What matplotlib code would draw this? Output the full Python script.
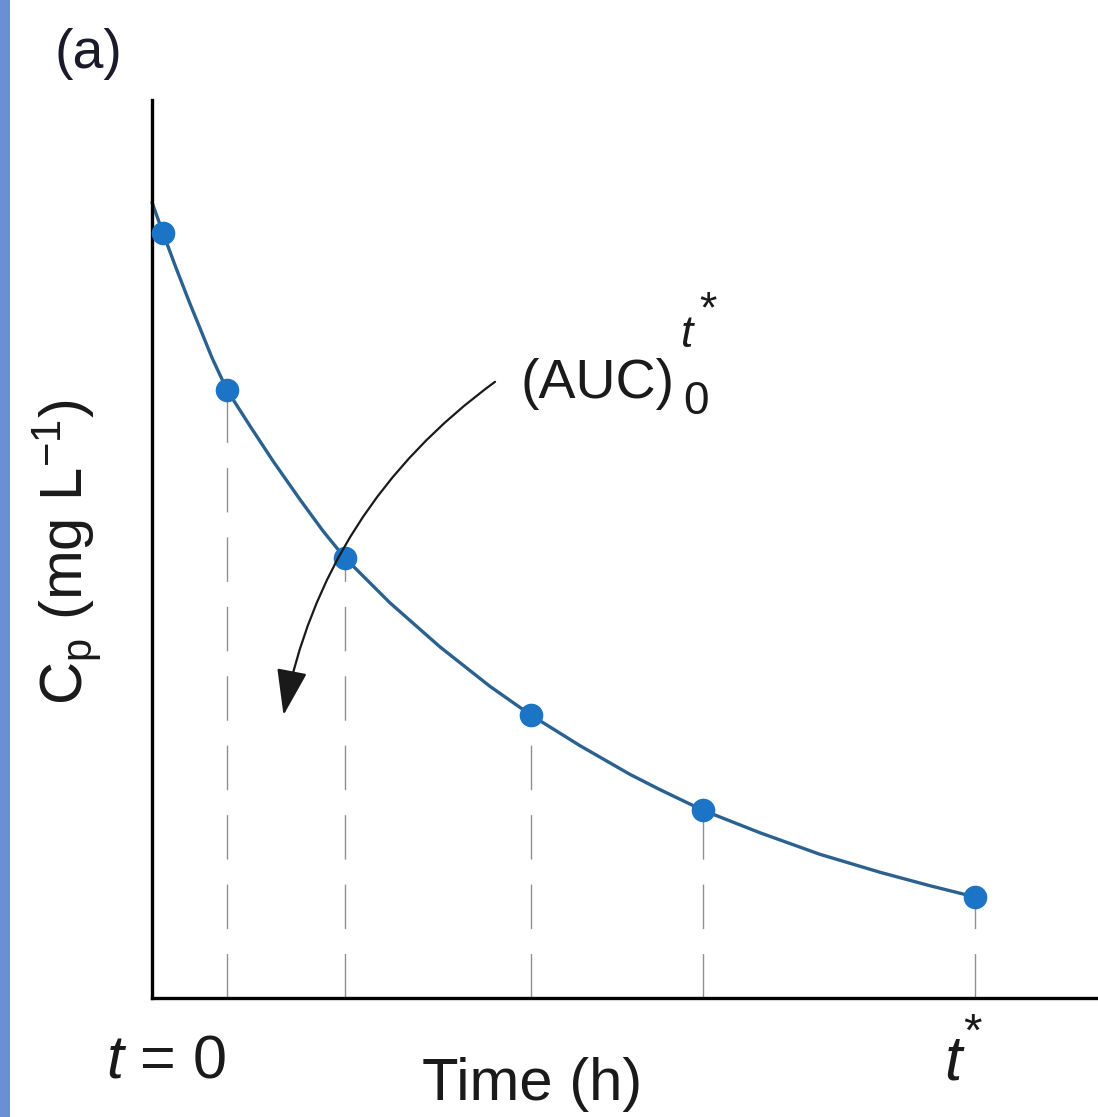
import matplotlib
matplotlib.use("Agg")
import matplotlib.pyplot as plt
from matplotlib.patches import FancyArrowPatch, Rectangle

# ---- data (arbitrary units) ----
sample_t = [1.16, 7.93, 20.40, 40.06, 58.25, 87.0]
sample_c = [85.2, 67.7, 49.0, 31.5, 20.9, 11.25]

curve_t = [0.0, 1.16, 2.54, 4.02, 5.07, 6.34, 7.93, 10.36, 12.79, 15.65,
           18.08, 20.40, 25.16, 30.44, 35.73, 40.06, 45.24, 50.53, 53.70,
           58.25, 64.27, 70.61, 76.96, 82.24, 87.0]
curve_c = [88.6, 85.2, 81.3, 77.3, 74.6, 71.3, 67.7, 63.7, 59.8, 55.5,
           52.0, 49.0, 44.0, 39.1, 34.7, 31.5, 28.1, 24.9, 23.2,
           20.9, 18.4, 16.0, 14.0, 12.5, 11.25]

arrow_start = (36.5, 68.8)
arrow_end = (13.85, 31.2)

FAM = ['Liberation Sans', 'DejaVu Sans']
plt.rcParams['font.family'] = FAM
plt.rcParams['mathtext.fontset'] = 'custom'
plt.rcParams['mathtext.rm'] = 'Liberation Sans'
plt.rcParams['mathtext.it'] = 'Liberation Sans:italic'

W, H = 1098, 1117
fig = plt.figure(figsize=(W / 100, H / 100), dpi=100)
fig.patch.set_facecolor('white')

# blue strip on the left edge
fig.patches.append(Rectangle((0, 0), 10 / W, 1, transform=fig.transFigure,
                             facecolor='#6b8fd6', edgecolor='none', zorder=0))

ax = fig.add_axes([152 / W, 1 - 998 / H, (W - 152) / W, (998 - 100) / H])
ax.set_xlim(0, 100)
ax.set_ylim(0, 100)
for s in ['top', 'right']:
    ax.spines[s].set_visible(False)
for s in ['left', 'bottom']:
    ax.spines[s].set_linewidth(2.4)
    ax.spines[s].set_color('black')
ax.set_xticks([])
ax.set_yticks([])

# dashed drop lines
for t, c in zip(sample_t[1:], sample_c[1:]):
    ax.plot([t, t], [0, c], color='#909090', lw=1.0,
            dashes=(32, 18), zorder=1)

# curve
ax.plot(curve_t, curve_c, color='#2b618f', lw=2.4, zorder=2,
        solid_capstyle='round', solid_joinstyle='round', clip_on=False)
# points
ax.plot(sample_t, sample_c, 'o', color='#1b74c5', ms=16, mec='#1b74c5',
        zorder=3, clip_on=False)

# annotation arrow
arr = FancyArrowPatch(arrow_start, arrow_end, connectionstyle='arc3,rad=0.2',
                      arrowstyle='-|>,head_length=1.8,head_width=0.6',
                      color='#1a1a1a', lw=1.6, mutation_scale=16, zorder=4)
ax.add_patch(arr)

# texts
fig.text(88 / W, 1 - 54 / H, '(a)', fontsize=40, ha='center', va='center',
         color='#1a1a2a')
fig.text(520 / W, 1 - 398 / H, '(AUC)', fontsize=40, ha='left',
         va='baseline', color='#1a1a1a')
fig.text(683 / W, 1 - 414 / H, '0', fontsize=33, ha='left', va='baseline',
         color='#1a1a1a')
fig.text(681 / W, 1 - 347 / H, 't', fontsize=32, style='italic', ha='left',
         va='baseline', color='#1a1a1a')
fig.text(699 / W, 1 - 322 / H, '*', fontsize=32, ha='left', va='baseline',
         color='#1a1a1a')

fig.text(67 / W, 1 - 552 / H, r'C$_\mathrm{p}$ (mg L$^{-1}$)', fontsize=43,
         rotation=90, ha='center', va='center', color='#1a1a1a')

fig.text(166 / W, 1 - 1078 / H, r'$t$ = 0', fontsize=44, ha='center',
         va='baseline', color='#1a1a1a')
fig.text(532 / W, 1 - 1100 / H, 'Time (h)', fontsize=43, ha='center',
         va='baseline', color='#1a1a1a')
fig.text(944 / W, 1 - 1080 / H, 't', fontsize=45, style='italic', ha='left',
         va='baseline', color='#1a1a1a')
fig.text(963 / W, 1 - 1046 / H, '*', fontsize=34, ha='left', va='baseline',
         color='#1a1a1a')

fig.savefig('out.png', dpi=100, facecolor='white')
